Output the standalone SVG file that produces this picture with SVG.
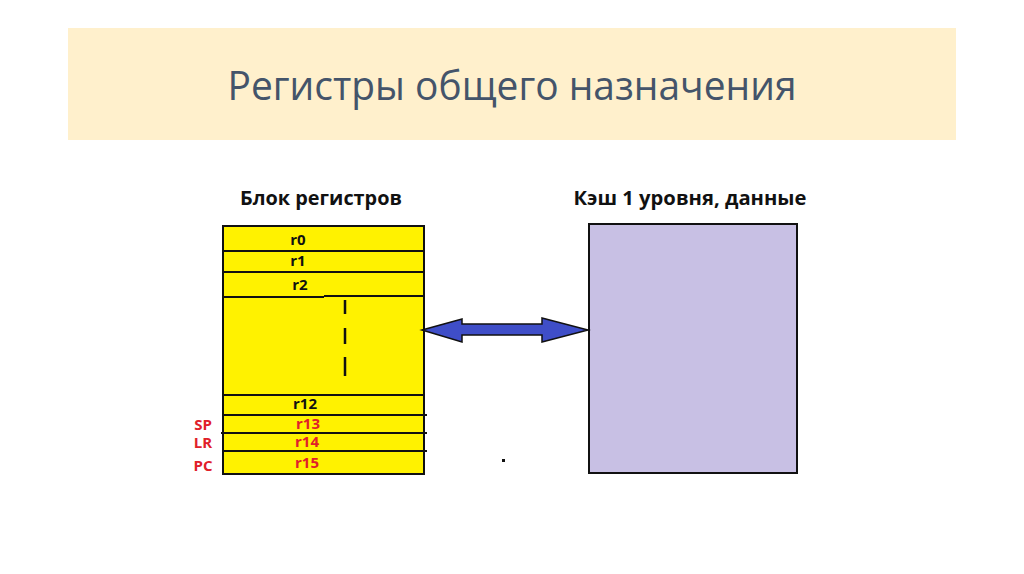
<svg xmlns="http://www.w3.org/2000/svg" width="1024" height="574" viewBox="0 0 1024 574">
<style>
.t{font-family:"Open Sans","Noto Sans","Liberation Sans",sans-serif}
.h{font-weight:bold;font-size:19px;fill:#111}
.r{font-weight:bold;font-size:15px;text-anchor:middle}
.blk{fill:#111}
.red{fill:#e0202a}
.ln{stroke:#111;stroke-width:2;fill:none}
</style>
<rect width="1024" height="574" fill="#fff"/>
<g id="title">
<rect x="68" y="28" width="888" height="112" fill="#fff0cc"/>
<text class="t" x="512" y="100" text-anchor="middle" font-size="41" fill="#44546a" textLength="569" lengthAdjust="spacingAndGlyphs">Регистры общего назначения</text>
</g>
<g id="regfile">
<text class="t h" x="321" y="205" text-anchor="middle" textLength="162" lengthAdjust="spacingAndGlyphs">Блок регистров</text>
<rect x="223" y="226" width="201" height="248" fill="#fff200" stroke="#111" stroke-width="2"/>
<path class="ln" d="M223 251H424M223 272H424M223 297H324M324 296H424M223 395H424M223 415H427M221 433H427M223 451H427"/>
<path d="M345 300V314M345 328V344M345 357V376" stroke="#111" stroke-width="2.5"/>
<text class="t r blk" x="298" y="245">r0</text>
<text class="t r blk" x="298" y="266">r1</text>
<text class="t r blk" x="300" y="290">r2</text>
<text class="t r blk" x="305" y="409">r12</text>
<text class="t r red" x="308" y="429">r13</text>
<text class="t r red" x="307" y="447">r14</text>
<text class="t r red" x="307" y="468">r15</text>
<text class="t r red" x="203" y="430" font-size="16">SP</text>
<text class="t r red" x="203" y="448" font-size="16">LR</text>
<text class="t r red" x="203" y="471" font-size="16">PC</text>
</g>
<g id="cache">
<text class="t h" x="690" y="205" text-anchor="middle" textLength="233" lengthAdjust="spacingAndGlyphs">Кэш 1 уровня, данные</text>
<rect x="589" y="224" width="208" height="249" fill="#c8c0e4" stroke="#111" stroke-width="2"/>
</g>
<g id="connectors">
<polygon points="422,330 462,319 462,324 542,324 542,318 588,330 542,342 542,335 462,335 462,342" fill="#3f4ec8" stroke="#111" stroke-width="1.5" stroke-linejoin="miter"/>
<rect x="502" y="459" width="3" height="3" fill="#111"/>
</g>
</svg>
